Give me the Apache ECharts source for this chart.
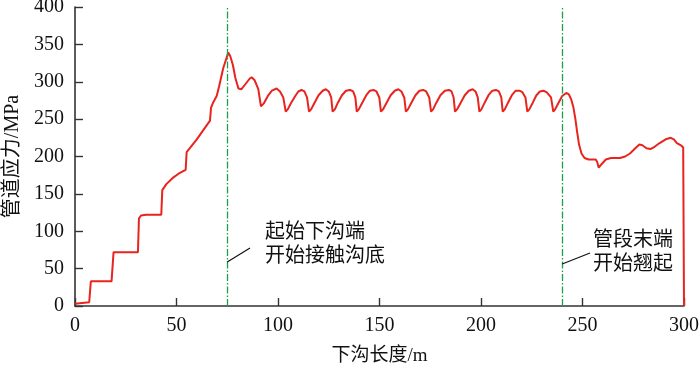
<!DOCTYPE html>
<html>
<head>
<meta charset="utf-8">
<script src="https://cdn.jsdelivr.net/npm/echarts@6/dist/echarts.min.js"></script>
<style>
  html, body { margin: 0; padding: 0; background: #fff; }
  #main { width: 700px; height: 369px; }
</style>
</head>
<body>
<div id="main"></div>
<script>
// 下沟长度 (m)
var lengthM = [
  0, 7, 7.8, 18, 19, 31, 31.5, 32.5, 35, 42.5,
  43, 45, 48, 51, 54.5, 55, 60, 66.5, 67, 68, 69.8, 71, 73, 75.5,
  76.5, 77.8, 79, 80.5, 82, 84, 86, 87, 88.5, 90.3, 91.6,
  93, 95, 97, 99.3, 101, 102.6, 103.8,
  104.8, 106.5, 108.5, 110, 111.6, 113, 114.3, 115.3,
  116.3, 118, 120, 122, 123.6, 125, 126.2, 126.9,
  128, 129.5, 131.5, 133.5, 135.5, 137, 138.1, 138.8,
  139.8, 141.5, 143.5, 145.3, 147, 148.5, 149.9, 150.7,
  151.7, 153.5, 155.5, 157.5, 159.3, 160.8, 162.2, 163,
  164, 165.7, 167.7, 169.7, 171.5, 173, 174.5, 175.4,
  176.4, 178, 180, 182.2, 184.2, 185.5, 186.5, 187.2,
  188.2, 190, 192, 194, 195.9, 197.3, 198.4, 199.2,
  200.2, 201.8, 203.7, 205.6, 207.4, 208.8, 210, 210.7,
  211.7, 213.3, 215.2, 217.1, 218.9, 220.4, 221.9, 222.8,
  223.8, 225.5, 227.3, 229, 230.7, 232.3, 234.5, 235.6,
  236.5, 238, 240, 242, 243.3, 244.5, 245.5, 246.5, 247.3, 248.3, 249.5, 251,
  253, 256.5, 257.2, 258, 259.5, 261.5, 264, 268.5, 271, 273.4, 276, 278,
  279.5, 281.5, 283.5, 285.5, 288, 291, 293.5, 295, 296.5, 298.5, 299.6, 300
];
// 管道应力 (MPa)
var stressMPa = [
  3, 5, 33, 33, 72, 72, 117, 121, 122, 122,
  155, 163, 171, 177, 182, 206, 223, 248, 265, 272, 281, 294, 318, 339,
  334, 322, 305, 291, 290, 297, 304, 306, 302, 290, 267,
  271, 281, 288, 291, 287, 279, 260,
  263, 272, 281, 287, 289, 287, 279, 260,
  263, 272, 282, 288, 290, 287, 279, 260,
  263, 272, 282, 288, 289, 287, 279, 260,
  263, 272, 282, 288, 289, 287, 279, 260,
  263, 272, 282, 288, 290, 287, 279, 260,
  263, 272, 282, 288, 289, 287, 279, 260,
  263, 272, 282, 288, 289, 287, 279, 260,
  263, 272, 282, 288, 290, 287, 279, 260,
  263, 272, 282, 288, 289, 287, 279, 260,
  263, 272, 282, 288, 288, 286, 279, 260,
  263, 272, 282, 287, 288, 286, 279, 260,
  263, 271, 281, 285, 283, 276, 266, 250, 234, 216, 204, 198,
  196, 196, 193, 185, 190, 196, 198, 198, 200, 204, 211, 216,
  215, 211, 210, 213, 218, 223, 225, 223, 218, 215, 212, 0
];
var xTicks = [0, 50, 100, 150, 200, 250, 300];
var yTicks = [0, 50, 100, 150, 200, 250, 300, 350, 400];
var markX = [75, 240];
var noteStart = { x: 93.6, y: 81.6, text: '起始下沟端\n开始接触沟底' };
var noteEnd = { x: 255.2, y: 70.9, text: '管段末端\n开始翘起' };
var leaderStart = [[75, 58.9], [86.2, 77.6]];
var leaderEnd = [[240, 56.2], [253.7, 70.9]];

var points = lengthM.map(function (x, i) { return [x, stressMPa[i]]; });
var fontFam = '"Liberation Serif", "Noto Sans CJK SC", serif';

var chart = echarts.init(document.getElementById('main'));
var option = {
  animation: false,
  grid: { left: 75, right: 16, top: 7, bottom: 63, outerBoundsMode: 'none', containLabel: false },
  xAxis: {
    type: 'value',
    min: xTicks[0],
    max: xTicks[xTicks.length - 1],
    interval: 50,
    name: '下沟长度/m',
    nameLocation: 'middle',
    nameGap: 41,
    nameTextStyle: { fontSize: 19, color: '#111', fontFamily: fontFam },
    axisLine: { lineStyle: { color: '#333', width: 1.6 } },
    axisTick: { inside: true, length: 8, lineStyle: { color: '#333', width: 1.4 } },
    axisLabel: { fontSize: 20, color: '#111', fontFamily: fontFam, margin: 10 },
    splitLine: { show: false }
  },
  yAxis: {
    type: 'value',
    min: yTicks[0],
    max: yTicks[yTicks.length - 1],
    interval: 50,
    name: '管道应力/MPa',
    nameLocation: 'middle',
    nameGap: 50,
    nameTextStyle: { fontSize: 20, color: '#111', fontFamily: fontFam },
    axisLine: { show: true, lineStyle: { color: '#333', width: 1.6 } },
    axisTick: { show: true, inside: true, length: 8, lineStyle: { color: '#333', width: 1.4 } },
    axisLabel: { fontSize: 20, color: '#111', fontFamily: fontFam, margin: 11 },
    splitLine: { show: false }
  },
  series: [
    {
      type: 'line',
      data: points,
      showSymbol: false,
      lineStyle: { color: '#e8241f', width: 2 },
      z: 3,
      markLine: {
        silent: true,
        symbol: 'none',
        label: { show: false },
        data: [
          { xAxis: markX[0], lineStyle: { color: '#1f9e4a', width: 1.3, type: [7, 2, 1.5, 2] } },
          { xAxis: markX[1], lineStyle: { color: '#1f9e4a', width: 1.3, type: [7, 2, 1.5, 2] } },
          [
            { coord: leaderStart[0], lineStyle: { color: '#111', width: 1.2, type: 'solid' } },
            { coord: leaderStart[1] }
          ],
          [
            { coord: leaderEnd[0], lineStyle: { color: '#111', width: 1.2, type: 'solid' } },
            { coord: leaderEnd[1] }
          ]
        ]
      },
      markPoint: {
        silent: true,
        symbol: 'circle',
        symbolSize: 0,
        label: {
          show: true,
          position: 'right',
          distance: 0,
          fontSize: 20,
          lineHeight: 24,
          color: '#111',
          fontFamily: fontFam
        },
        data: [
          { coord: [noteStart.x, noteStart.y], label: { formatter: noteStart.text } },
          { coord: [noteEnd.x, noteEnd.y], label: { formatter: noteEnd.text } }
        ]
      }
    }
  ]
};
chart.setOption(option);
</script>
</body>
</html>
